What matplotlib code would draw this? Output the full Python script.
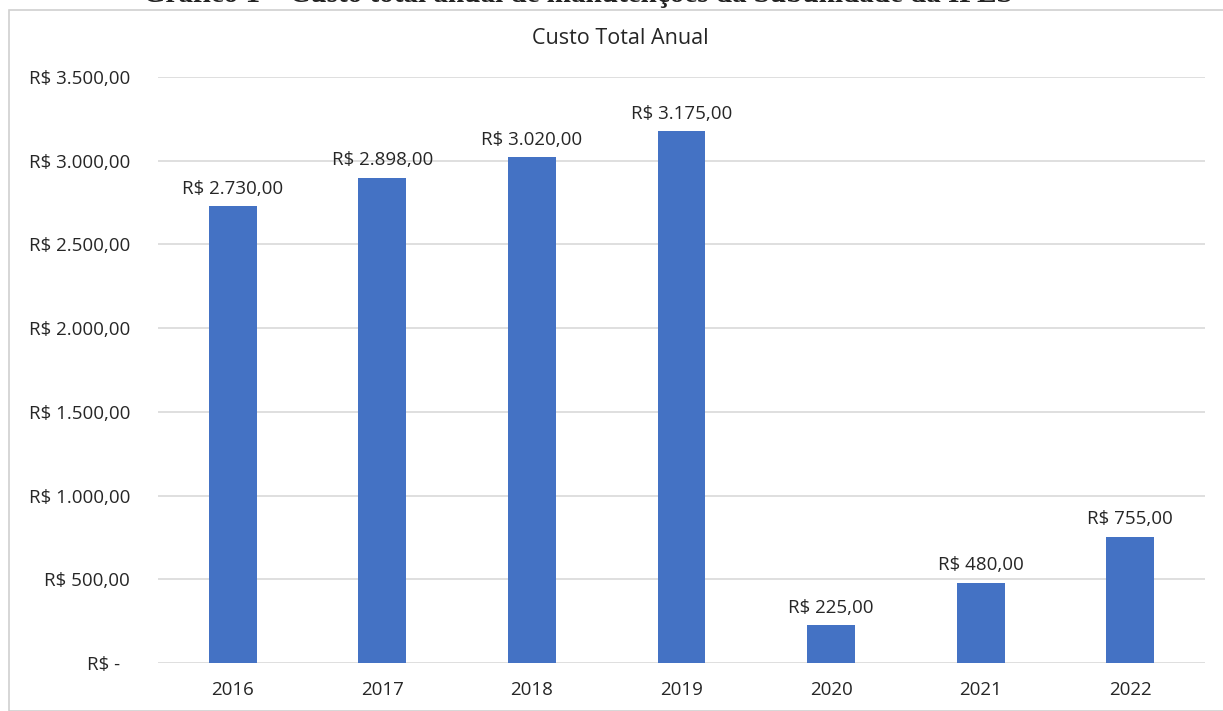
import matplotlib.pyplot as plt
from matplotlib.patches import Rectangle

# dados
anos = ["2016", "2017", "2018", "2019", "2020", "2021", "2022"]
custos = [2730, 2898, 3020, 3175, 225, 480, 755]
yticks = [0, 500, 1000, 1500, 2000, 2500, 3000, 3500]


def brl(v):
    # formato contabil brasileiro
    if v == 0:
        return "R$ -  "
    s = f"{v:,.2f}".replace(",", "X").replace(".", ",").replace("X", ".")
    return f"R$ {s}"


plt.rcParams['font.family'] = ['Open Sans', 'DejaVu Sans']

W, H = 1223, 711
fig = plt.figure(figsize=(W / 100, H / 100), dpi=100)
ax = fig.add_axes([158 / W, 1 - 663 / H, (1205 - 158) / W, (663 - 77) / H])

# moldura do grafico
fig.patches.append(Rectangle((9 / W, 0), 1.1, 1 - 10 / H, transform=fig.transFigure,
                             fill=False, edgecolor="#d0d0d0", linewidth=1.2))

# legenda do documento, cortada no topo como no original
fig.text(578 / W, 1 + 6 / H, "Gráfico 1 – Custo total anual de manutenções da Subunidade da IFES",
         ha="center", va="center", fontsize=21, fontweight="bold",
         family=["Liberation Serif", "DejaVu Serif"], color="#222222")

x = range(len(anos))
bars = ax.bar(x, custos, width=0.32, color="#4472c4", zorder=3)

for b, v in zip(bars, custos):
    ax.annotate(brl(v), (b.get_x() + b.get_width() / 2, v), xytext=(0, 6),
                textcoords="offset points", ha="center", va="bottom",
                fontsize=13.5, color="#262626")

ax.set_xlim(-0.5, len(anos) - 0.5)
ax.set_ylim(0, 3500)
ax.set_yticks(yticks)
ax.set_yticklabels([brl(v) for v in yticks])
ax.set_xticks(list(x))
ax.set_xticklabels(anos)
ax.tick_params(axis="y", length=0, pad=20, labelsize=13.5, labelcolor="#262626")
ax.tick_params(axis="x", length=0, pad=13, labelsize=13.5, labelcolor="#262626")
ax.grid(axis="y", color="#d9d9d9", linewidth=1.2, zorder=0)
for s in ax.spines.values():
    s.set_visible(False)

fig.text(620 / W, 1 - 38 / H, "Custo Total Anual", ha="center", va="center",
         fontsize=15.5, color="#262626")

fig.savefig("out.png", dpi=100)
